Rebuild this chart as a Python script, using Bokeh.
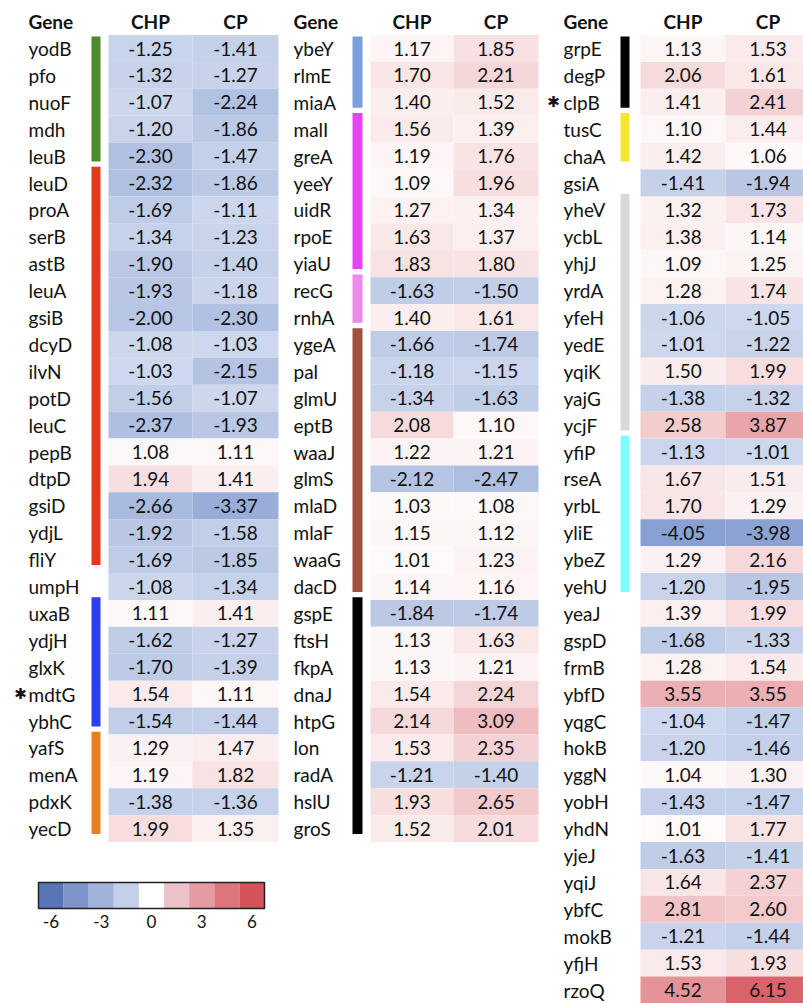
from bokeh.plotting import figure
from bokeh.models import Range1d, ColumnDataSource
from bokeh.embed import file_html
from bokeh.resources import INLINE
from bokeh.core.properties import value

# ---------------- data ----------------
genes1 = ["yodB", "pfo", "nuoF", "mdh", "leuB", "leuD", "proA", "serB", "astB", "leuA",
          "gsiB", "dcyD", "ilvN", "potD", "leuC", "pepB", "dtpD", "gsiD", "ydjL", "fliY",
          "umpH", "uxaB", "ydjH", "glxK", "mdtG", "ybhC", "yafS", "menA", "pdxK", "yecD"]
chp1 = [-1.25, -1.32, -1.07, -1.20, -2.30, -2.32, -1.69, -1.34, -1.90, -1.93,
        -2.00, -1.08, -1.03, -1.56, -2.37, 1.08, 1.94, -2.66, -1.92, -1.69,
        -1.08, 1.11, -1.62, -1.70, 1.54, -1.54, 1.29, 1.19, -1.38, 1.99]
cp1 = [-1.41, -1.27, -2.24, -1.86, -1.47, -1.86, -1.11, -1.23, -1.40, -1.18,
       -2.30, -1.03, -2.15, -1.07, -1.93, 1.11, 1.41, -3.37, -1.58, -1.85,
       -1.34, 1.41, -1.27, -1.39, 1.11, -1.44, 1.47, 1.82, -1.36, 1.35]

genes2 = ["ybeY", "rlmE", "miaA", "malI", "greA", "yeeY", "uidR", "rpoE", "yiaU", "recG",
          "rnhA", "ygeA", "pal", "glmU", "eptB", "waaJ", "glmS", "mlaD", "mlaF", "waaG",
          "dacD", "gspE", "ftsH", "fkpA", "dnaJ", "htpG", "lon", "radA", "hslU", "groS"]
chp2 = [1.17, 1.70, 1.40, 1.56, 1.19, 1.09, 1.27, 1.63, 1.83, -1.63,
        1.40, -1.66, -1.18, -1.34, 2.08, 1.22, -2.12, 1.03, 1.15, 1.01,
        1.14, -1.84, 1.13, 1.13, 1.54, 2.14, 1.53, -1.21, 1.93, 1.52]
cp2 = [1.85, 2.21, 1.52, 1.39, 1.76, 1.96, 1.34, 1.37, 1.80, -1.50,
       1.61, -1.74, -1.15, -1.63, 1.10, 1.21, -2.47, 1.08, 1.12, 1.23,
       1.16, -1.74, 1.63, 1.21, 2.24, 3.09, 2.35, -1.40, 2.65, 2.01]

genes3 = ["grpE", "degP", "clpB", "tusC", "chaA", "gsiA", "yheV", "ycbL", "yhjJ", "yrdA",
          "yfeH", "yedE", "yqiK", "yajG", "ycjF", "yfiP", "rseA", "yrbL", "yliE", "ybeZ",
          "yehU", "yeaJ", "gspD", "frmB", "ybfD", "yqgC", "hokB", "yggN", "yobH", "yhdN",
          "yjeJ", "yqiJ", "ybfC", "mokB", "yfjH", "rzoQ"]
chp3 = [1.13, 2.06, 1.41, 1.10, 1.42, -1.41, 1.32, 1.38, 1.09, 1.28,
        -1.06, -1.01, 1.50, -1.38, 2.58, -1.13, 1.67, 1.70, -4.05, 1.29,
        -1.20, 1.39, -1.68, 1.28, 3.55, -1.04, -1.20, 1.04, -1.43, 1.01,
        -1.63, 1.64, 2.81, -1.21, 1.53, 4.52]
cp3 = [1.53, 1.61, 2.41, 1.44, 1.06, -1.94, 1.73, 1.14, 1.25, 1.74,
       -1.05, -1.22, 1.99, -1.32, 3.87, -1.01, 1.51, 1.29, -3.98, 2.16,
       -1.95, 1.99, -1.33, 1.54, 3.55, -1.47, -1.46, 1.30, -1.47, 1.77,
       -1.41, 2.37, 2.60, -1.44, 1.93, 6.15]

# gene groups: (first row, last row, colour)
groups1 = [(0, 4, "#4b8b2b"), (5, 19, "#e2391b"), (21, 25, "#2c40f2"), (26, 29, "#e8801f")]
groups2 = [(0, 2, "#7ba1dc"), (3, 8, "#e444f2"), (9, 10, "#e98be9"), (11, 20, "#a0523d"),
           (21, 29, "#000000")]
groups3 = [(0, 2, "#000000"), (3, 4, "#f6e52f"), (6, 14, "#d9d9d9"), (15, 20, "#80ffff")]

starred = ["mdtG", "clpB"]
headers = ["Gene", "CHP", "CP"]

cbar_colors = ["#5a74b8", "#7d93c9", "#a1b3da", "#c4d0ea", "#ffffff",
               "#ebc3c8", "#e49ca2", "#dc767c", "#d4525a"]
cbar_min, cbar_max = -6, 6
cbar_ticks = [-6, -3, 0, 3, 6]

# ---------------- helpers ----------------
def heat(v):
    if v < 0:
        t = min(max((-v - 1) / 5.0, 0), 1)
        c0, c1 = (206, 216, 237), (93, 126, 192)
    else:
        t = min(max((v - 1) / 5.15, 0), 1)
        c0, c1 = (254, 250, 250), (217, 99, 106)
    return "#%02x%02x%02x" % tuple(int(round(a + (b - a) * t)) for a, b in zip(c0, c1))

FONT = value("Lato")
ROW0 = 48.0     # pixel centre of first row
PITCH = 26.9    # pixels per row
W, H = 803, 1003

p = figure(width=W, height=H, output_backend="svg", toolbar_location=None,
           x_axis_type=None, y_axis_type=None,
           x_range=Range1d(0, W),
           y_range=Range1d((H - ROW0) / PITCH, (0 - ROW0) / PITCH),
           min_border=0, min_border_left=0, min_border_right=0,
           min_border_top=0, min_border_bottom=0)
p.outline_line_color = None
p.grid.visible = False
p.background_fill_color = "white"
p.border_fill_color = "white"

panels = [
    dict(genes=genes1, chp=chp1, cp=cp1, groups=groups1,
         gx=28, bl=91, br=100, cl=108, cm=192, cr=278, sx=20),
    dict(genes=genes2, chp=chp2, cp=cp2, groups=groups2,
         gx=293, bl=352, br=362, cl=370, cm=453, cr=538, sx=285),
    dict(genes=genes3, chp=chp3, cp=cp3, groups=groups3,
         gx=563, bl=620, br=629, cl=640, cm=725, cr=810, sx=553),
]

for pn in panels:
    n = len(pn["genes"])
    rows = list(range(n))
    # cells
    src = ColumnDataSource(dict(
        left=[pn["cl"]] * n + [pn["cm"]] * n,
        right=[pn["cm"]] * n + [pn["cr"]] * n,
        top=[r - 0.5 for r in rows] * 2,
        bottom=[r + 0.5 for r in rows] * 2,
        color=[heat(v) for v in pn["chp"]] + [heat(v) for v in pn["cp"]],
        x=[(pn["cl"] + pn["cm"]) / 2] * n + [(pn["cm"] + pn["cr"]) / 2] * n,
        y=rows * 2,
        label=["%.2f" % v for v in pn["chp"]] + ["%.2f" % v for v in pn["cp"]],
    ))
    p.quad(left="left", right="right", top="top", bottom="bottom", source=src,
           fill_color="color", line_color=None)
    p.text(x="x", y="y", text="label", source=src, text_font=FONT,
           text_font_size="19px", text_align="center", text_baseline="middle",
           text_color="#111111")
    # gene labels
    gsrc = ColumnDataSource(dict(x=[pn["gx"]] * n, y=rows, g=pn["genes"]))
    p.text(x="x", y="y", text="g", source=gsrc, text_font=FONT,
           text_font_size="19px", text_align="left", text_baseline="middle",
           text_color="#111111")
    # stars
    st = [r for r in rows if pn["genes"][r] in starred]
    if st:
        p.text(x=[pn["sx"]] * len(st), y=st, text=["\u2731"] * len(st),
               text_font=value("DejaVu Sans"), text_font_size="15px",
               text_align="center", text_baseline="middle", text_color="#111111")
    # group bars
    tops = [max(a - 0.6, -0.45) for a, b, c in pn["groups"]]
    bots = [b + 0.2 for a, b, c in pn["groups"]]
    cols = [c for a, b, c in pn["groups"]]
    p.quad(left=pn["bl"], right=pn["br"], top=tops, bottom=bots,
           fill_color=cols, line_color=None)
    # headers
    hy = (21 - ROW0) / PITCH
    p.text(x=[pn["gx"], (pn["cl"] + pn["cm"]) / 2, (pn["cm"] + pn["cr"]) / 2],
           y=[hy] * 3, text=headers, text_font=FONT, text_font_style="bold",
           text_font_size="19px", text_align=["left", "center", "center"],
           text_baseline="middle", text_color="#111111")

# colour bar legend on its own value scale
px_l, px_r = 38, 264
scale = (cbar_max - cbar_min) / (px_r - px_l)
p.extra_x_ranges = {"cbar": Range1d(cbar_min + (0 - px_l) * scale,
                                    cbar_min + (W - px_l) * scale)}
nb = len(cbar_colors)
bw = (cbar_max - cbar_min) / nb
edges = [cbar_min + k * bw for k in range(nb + 1)]
cb_top = (882 - ROW0) / PITCH
cb_bot = (908 - ROW0) / PITCH
p.quad(left=edges[:-1], right=edges[1:], top=cb_top, bottom=cb_bot,
       fill_color=cbar_colors, line_color=None, x_range_name="cbar")
p.quad(left=cbar_min, right=cbar_max, top=cb_top, bottom=cb_bot,
       fill_color=None, line_color="#222222", line_width=1.5, x_range_name="cbar")
tick_blocks = [0, 2, 4, 6, 8]
p.text(x=[cbar_min + (k + 0.5) * bw for k in tick_blocks],
       y=[(921 - ROW0) / PITCH] * len(cbar_ticks),
       text=[str(t) for t in cbar_ticks], x_range_name="cbar",
       text_font=FONT, text_font_size="17px", text_align="center",
       text_baseline="middle", text_color="#111111")

open("out.html", "w").write(file_html(p, INLINE))
